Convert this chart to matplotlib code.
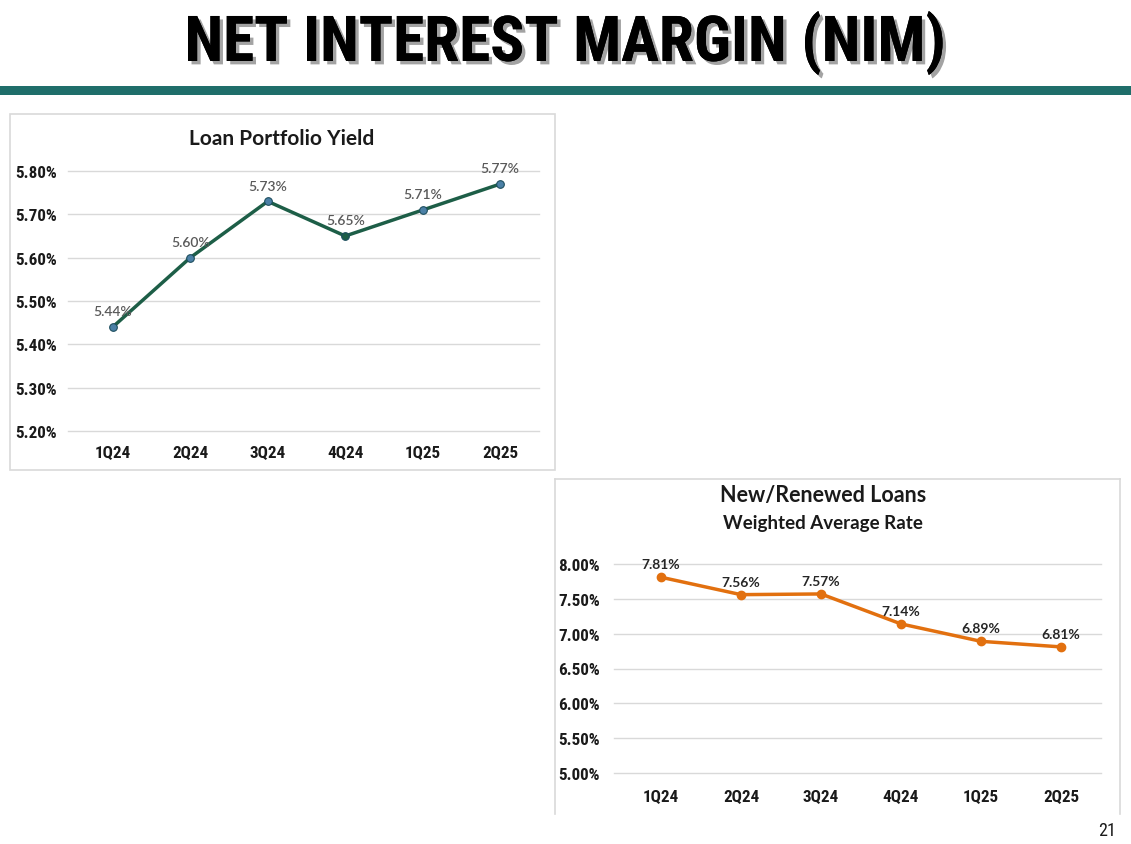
import matplotlib.pyplot as plt
import matplotlib.patheffects as pe
from matplotlib.patches import Rectangle
from matplotlib.lines import Line2D
from matplotlib.ticker import FuncFormatter

# dados
quarters = ["1Q24", "2Q24", "3Q24", "4Q24", "1Q25", "2Q25"]
loan_yield = [5.44, 5.60, 5.73, 5.65, 5.71, 5.77]
new_loan_rate = [7.81, 7.56, 7.57, 7.14, 6.89, 6.81]
yield_ticks = [5.20, 5.30, 5.40, 5.50, 5.60, 5.70, 5.80]
rate_ticks = [5.00, 5.50, 6.00, 6.50, 7.00, 7.50, 8.00]

W, H = 1131, 845
fig = plt.figure(figsize=(W / 100, H / 100), dpi=100)

narrow = ["Roboto Condensed", "DejaVu Sans"]
label_font = ["Lato", "DejaVu Sans"]


def fx(px):
    return px / W


def fy(py):
    return 1 - py / H


# título da página
fig.text(0.5, fy(44), "NET INTEREST MARGIN (NIM)", ha="center", va="center",
         fontsize=45.5, fontweight="bold", family=narrow, color="black",
         path_effects=[pe.withSimplePatchShadow(offset=(2.5, -2.5), shadow_rgbFace="#666666", alpha=0.6),
                       pe.Normal()])
fig.patches.append(Rectangle((0, fy(96)), 1, 9 / H, transform=fig.transFigure,
                             facecolor="#1f6e6a", edgecolor="none"))

# moldura do gráfico 1
fig.patches.append(Rectangle((fx(10), fy(471)), fx(545), 356 / H, transform=fig.transFigure,
                             facecolor="none", edgecolor="#d9d9d9", linewidth=1.2))
# moldura do gráfico 2 (sem borda inferior)
for xs, ys in [([555, 555], [815, 480]), ([555, 1120], [480, 480]), ([1120, 1120], [480, 815])]:
    fig.lines.append(Line2D([fx(x) for x in xs], [fy(y) for y in ys], transform=fig.transFigure,
                            color="#d9d9d9", linewidth=1.2))


def setup_axes(ax, ticks, ypad, xpad, grid_x0):
    ax.set_yticks(ticks)
    ax.set_ylim(ticks[0], ticks[-1])
    ax.yaxis.set_major_formatter(FuncFormatter(lambda v, p: f"{v:.2f}%"))
    ax.set_xticks(range(len(quarters)))
    ax.set_xticklabels(quarters)
    ax.set_xlim(-0.5, len(quarters) - 0.5)
    for t in ticks:
        ax.plot([grid_x0, len(quarters) - 0.5], [t, t], color="#d9d9d9", linewidth=1,
                zorder=1, clip_on=False)
    for s in ax.spines.values():
        s.set_visible(False)
    ax.tick_params(length=0)
    ax.tick_params(axis="y", pad=ypad)
    ax.tick_params(axis="x", pad=xpad)
    for lab in ax.get_xticklabels() + ax.get_yticklabels():
        lab.set_fontfamily(narrow)
        lab.set_fontweight("bold")
        lab.set_fontsize(12.3)
        lab.set_color("#1a1a1a")
    ax.patch.set_alpha(0)


# gráfico 1: Loan Portfolio Yield
ax1 = fig.add_axes([fx(74), fy(432), fx(539 - 74), (432 - 172) / H])
setup_axes(ax1, yield_ticks, 12, 10, -0.58)
ax1.plot(range(len(quarters)), loan_yield, color="#1d5e47", linewidth=2.5, zorder=3)
mfc = ["#4b80a6", "#4b80a6", "#4b80a6", "#1d5e47", "#4b80a6", "#4b80a6"]
for i, v in enumerate(loan_yield):
    ax1.plot(i, v, "o", markersize=5.5, markerfacecolor=mfc[i], markeredgecolor="#1d4e5e",
             markeredgewidth=0.8, zorder=4, clip_on=False)
    ax1.annotate(f"{v:.2f}%", (i, v), xytext=(0, 7), textcoords="offset points", ha="center",
                 va="bottom", fontsize=10, family=label_font, fontweight="semibold",
                 color="#595959")
fig.text(fx(282), fy(139), "Loan Portfolio Yield", ha="center", va="center", fontsize=15,
         family=label_font, fontweight="bold", color="#1a1a1a")

# gráfico 2: New/Renewed Loans
ax2 = fig.add_axes([fx(621), fy(774), fx(1101 - 621), (774 - 565) / H])
setup_axes(ax2, rate_ticks, 15, 11.5, -0.59)
ax2.plot(range(len(quarters)), new_loan_rate, color="#e2700f", linewidth=2.5, marker="o",
         markersize=6, zorder=3, clip_on=False)
for i, v in enumerate(new_loan_rate):
    ax2.annotate(f"{v:.2f}%", (i, v), xytext=(0, 5), textcoords="offset points", ha="center",
                 va="bottom", fontsize=10, family=label_font, fontweight="bold", color="#262626")
fig.text(fx(823), fy(496), "New/Renewed Loans", ha="center", va="center", fontsize=15.5,
         family=label_font, fontweight="bold", color="#1a1a1a")
fig.text(fx(823), fy(523), "Weighted Average Rate", ha="center", va="center", fontsize=13.5,
         family=label_font, fontweight="bold", color="#1a1a1a")

# número da página
fig.text(fx(1107), fy(831), "21", ha="center", va="center", fontsize=13,
         family=narrow, color="#1a1a1a")

fig.savefig("out.png", dpi=100)
